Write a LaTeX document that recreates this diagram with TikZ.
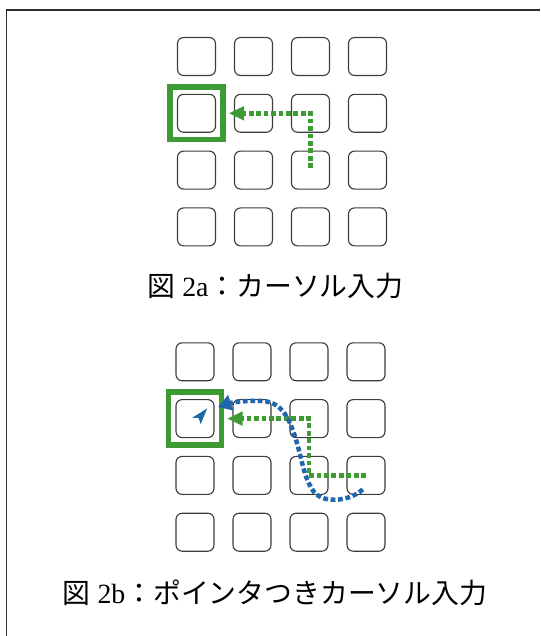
\documentclass[tikz,border=0pt]{standalone}
\usepackage{fontspec}
\setmainfont{Liberation Serif}
\newfontfamily\cjk{Noto Sans CJK JP}
\usetikzlibrary{arrows.meta,calc}
\definecolor{GreenClr}{RGB}{62,155,52}
\definecolor{BlueClr}{RGB}{32,102,172}
\definecolor{CellClr}{RGB}{60,60,60}
\definecolor{FrameClr}{RGB}{45,45,45}

\tikzset{
  cellbox/.style={draw=CellClr,line width=0.8pt,rounded corners=4.3pt,minimum size=27pt,inner sep=0pt},
  selbox/.style={draw=GreenClr,line width=3.9pt,minimum size=37.6pt,inner sep=0pt},
  greenpath/.style={GreenClr,line width=3.2pt,dash pattern=on 3.4pt off 1.9pt,-{Triangle[length=11pt,width=9.5pt]}},
  bluepath/.style={BlueClr,line width=3.2pt,dash pattern=on 3.4pt off 1.9pt,-{Triangle[length=9.5pt,width=11pt]}},
  captext/.style={font=\fontsize{19.8}{24}\selectfont,inner sep=0pt,anchor=base}
}

\begin{document}
\begin{tikzpicture}[x=0.025cm,y=-0.025cm]
\useasboundingbox (0,0) rectangle (540,636);

\draw[FrameClr,line width=1.4pt] (6.5,636) -- (6.5,10) -- (540,10);

\foreach \r in {1,...,4}
  \foreach \c in {1,...,4}
    \node[cellbox] (a\r\c) at ({139.5+57*\c},{-0.3+56.8*\r}) {};

\node[selbox] (sa) at (a21) {};

\draw[greenpath] ($(a33)+(0,-2)$) -- (a23.center) -- ($(sa.east)+(3,0)$);

\node[captext] (ca) at (275.5,296) {{\cjk 図} 2a{\cjk ：カーソル入力}};

\foreach \r in {1,...,4}
  \foreach \c in {1,...,4}
    \node[cellbox] (b\r\c) at ({138+57*\c},{305+56.8*\r}) {};

\node[selbox] (sb) at (b21) {};

\draw[greenpath] (b34.center) -- (b33.center) -- (b23.center) -- ($(sb.east)+(3,0)$);

\coordinate (bs) at (362.7,489.3);
\coordinate (be) at (218,407);
\draw[bluepath] (bs) .. controls (352,500) and (325,505) .. (314,492)
  .. controls (305,480) and (303,465) .. (297,443)
  .. controls (290,420) and (283,402) .. (262,401)
  .. controls (245,400) and (230,403) .. (be);

\fill[BlueClr] (207.3,408.3) -- (192.3,417.7) -- (198.5,418) -- (200.7,424) -- cycle;

\node[captext] (cb) at (275,603) {{\cjk 図} 2b{\cjk ：ポインタつきカーソル入力}};

\end{tikzpicture}
\end{document}
